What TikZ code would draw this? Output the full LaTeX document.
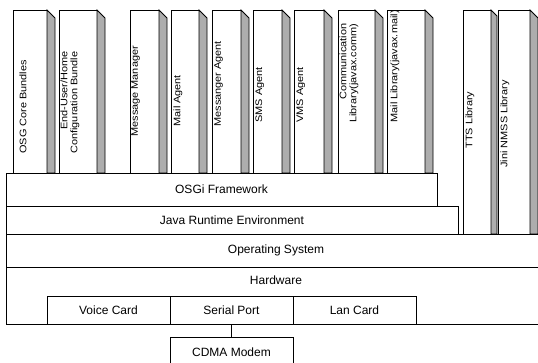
\documentclass[tikz,border=0pt]{standalone}
\usepackage{fontspec}
\setmainfont{Liberation Sans}
\usetikzlibrary{positioning}
\newcommand\wide[1]{\scalebox{1.15}[1]{#1}}

\begin{document}
\begin{tikzpicture}[x=1pt, y=-1pt, line width=.8pt,
    layer/.style={draw, anchor=north west, inner sep=0, outer sep=0, font=\fontsize{12}{14}\selectfont},
    card/.style={layer, minimum width=123pt, minimum height=28pt},
    side/.style={draw, fill=black!32},
    lbl/.style={rotate=90, anchor=north west, inner sep=0, font=\fontsize{9.5}{10}\selectfont}]
    \useasboundingbox (0,0) rectangle (538,363);
    \clip (0,0) rectangle (538,363);

    \foreach \xl/\xr/\s/\yb in {13/47/8/173, 59/97/8/173, 130/159/8/173, 171/199/8/173,
        212/241/8/173, 253/282/8/173, 294/324/8/173, 338/375/8/173, 387/425/8/173,
        463/491/6/234, 498/530/8/234} {
        \draw (\xl,10) rectangle (\xr,\yb);
        \draw [side] (\xr,10) -- ++(\s,\s) -- (\xr+\s,\yb) -- (\xr,\yb) -- cycle;
    }

    \node [lbl] (core) at (19,154) {\wide{OSG Core Bundles}};
    \node [lbl] (home) at (60,154) {\wide{\begin{tabular}{@{}r@{}}End-User/Home\\Configuration Bundle\end{tabular}}};
    \node [lbl] (msgmgr) at (131,137) {\wide{Message Manager}};
    \node [lbl] (mail) at (173,127) {\wide{Mail Agent}};
    \node [lbl] (messenger) at (214,127) {\wide{Messanger Agent}};
    \node [lbl] (sms) at (255,123) {\wide{SMS Agent}};
    \node [lbl] (vms) at (296,123) {\wide{VMS Agent}};
    \node [lbl] (comm) at (339,123) {\wide{\begin{tabular}{@{}r@{}}Communication\\Library(javax.comm)\end{tabular}}};
    \node [lbl] (maillib) at (390,123) {\wide{Mail Library(javax.mail)}};
    \node [lbl] (tts) at (465,149) {\wide{TTS Library}};
    \node [lbl] (jini) at (500,168) {\wide{Jini NMSS Library}};

    \node [layer, minimum width=431pt, minimum height=33pt] (osgi) at (6,173) {OSGi Framework};
    \node [layer, minimum width=452pt, minimum height=28pt] (jre) at (osgi.south west) {Java Runtime Environment};
    \node [layer, minimum width=540pt, minimum height=33pt] (os) at (jre.south west) {Operating System};
    \node [layer, minimum width=540pt, text height=18pt, text depth=39pt] (hw) at (os.south west) {Hardware};

    \node [card] (voice) at (47,296) {Voice Card};
    \node [card, right=0pt of voice] (serial) {Serial Port};
    \node [card, right=0pt of serial] (lan) {Lan Card};
    \node [card, minimum height=30pt, below=13pt of serial] (cdma) {CDMA Modem};
    \draw (serial) -- (cdma);
\end{tikzpicture}
\end{document}
